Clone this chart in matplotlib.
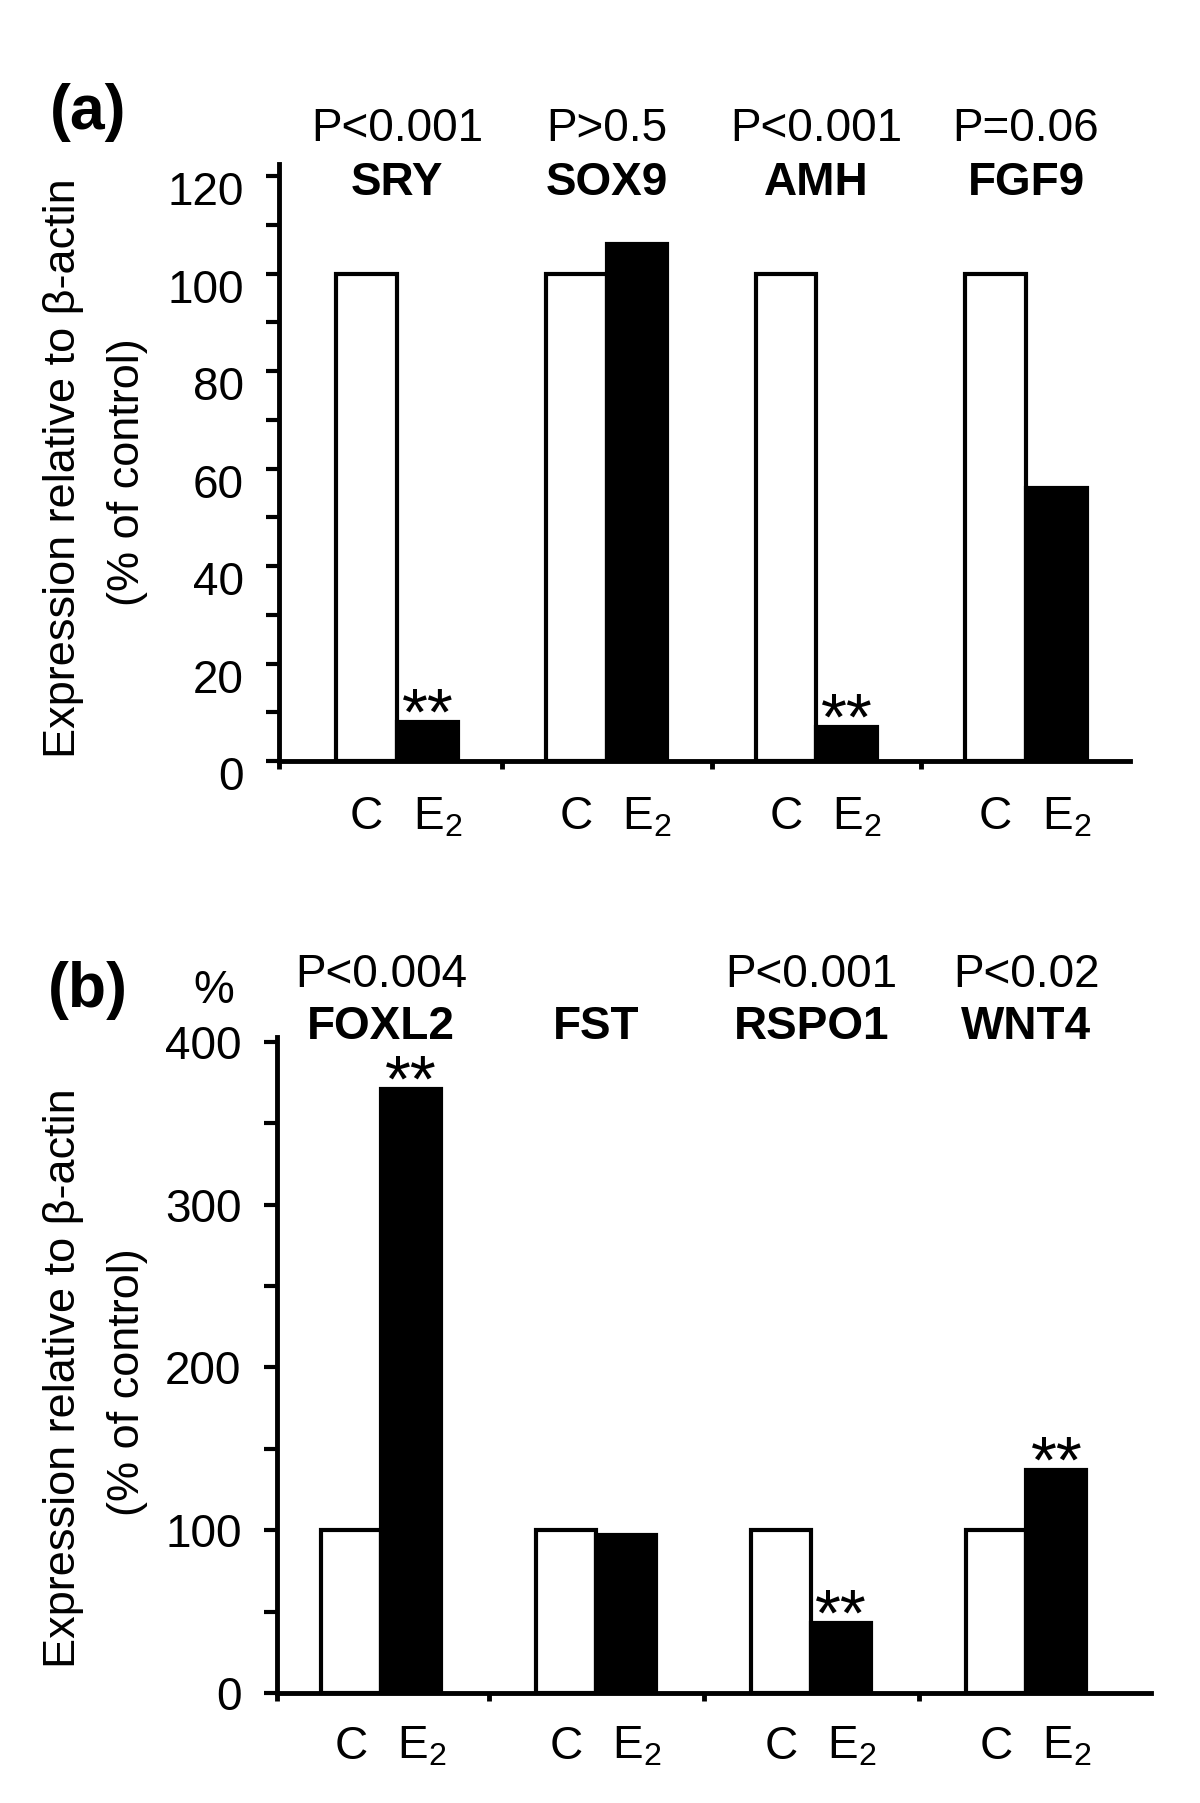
import matplotlib
matplotlib.use("Agg")
import matplotlib.pyplot as plt
from matplotlib import transforms
import numpy as np

plt.rcParams['font.family'] = ['Liberation Sans', 'DejaVu Sans']
plt.rcParams['mathtext.fontset'] = 'custom'
plt.rcParams['mathtext.rm'] = 'Liberation Sans'
plt.rcParams['mathtext.it'] = 'Liberation Sans:italic'
plt.rcParams['mathtext.bf'] = 'Liberation Sans:bold'

# panel (a): male pathway genes
genes_a = ["SRY", "SOX9", "AMH", "FGF9"]
pvals_a = ["P<0.001", "P>0.5", "P<0.001", "P=0.06"]
control_a = [100, 100, 100, 100]
e2_a = [8, 106, 7, 56]
stars_a = [True, False, True, False]
yticks_a = [0, 20, 40, 60, 80, 100, 120]

# panel (b): female pathway genes
genes_b = ["FOXL2", "FST", "RSPO1", "WNT4"]
pvals_b = ["P<0.004", "", "P<0.001", "P<0.02"]
control_b = [100, 100, 100, 100]
e2_b = [371, 97, 43, 137]
stars_b = [True, False, True, True]
yticks_b = [0, 100, 200, 300, 400]

group_labels = ["C", "E$_2$"]

W, H = 1200, 1803
fig = plt.figure(figsize=(W / 100, H / 100), dpi=100)


def fy(px):
    return 1 - px / H


def panel(rect, genes, pvals, ctrl, e2, stars, yticks, yminor, ytop, xlim, w,
          letter, letter_y, p_y, g_y, xl_y, ylab_y, lab_dy):
    ax = fig.add_axes(rect)
    x = np.arange(len(genes))
    ax.bar(x - w / 2, ctrl, w, color="white", edgecolor="black", linewidth=3, zorder=2)
    ax.bar(x + w / 2, e2, w, color="black", edgecolor="black", linewidth=3, zorder=2)

    ax.set_xlim(*xlim)
    ax.set_ylim(0, ytop)
    for s in ["top", "right"]:
        ax.spines[s].set_visible(False)
    for s in ["left", "bottom"]:
        ax.spines[s].set_linewidth(3.5)

    ax.set_xticks([xlim[0], 0.5, 1.5, 2.5])
    ax.set_xticklabels([])
    ax.tick_params(axis="x", which="major", direction="out", length=6, width=3.5)
    ax.set_yticks(yticks)
    ax.set_yticks(yminor, minor=True)
    ax.tick_params(axis="y", which="both", direction="out", length=9.5, width=3, pad=16,
                   labelsize=33)
    if lab_dy:
        off = transforms.ScaledTranslation(0, -lab_dy / 100, fig.dpi_scale_trans)
        for lbl in ax.get_yticklabels():
            lbl.set_transform(lbl.get_transform() + off)

    tr = transforms.blended_transform_factory(ax.transData, fig.transFigure)
    e_shift = tr + transforms.ScaledTranslation(0.10, 0, fig.dpi_scale_trans)
    for i in range(len(genes)):
        ax.text(i, fy(p_y), pvals[i], transform=tr, ha="center", va="baseline", fontsize=33)
        ax.text(i, fy(g_y), genes[i], transform=tr, ha="center", va="baseline",
                fontsize=33, fontweight="bold")
        ax.text(i - w / 2, fy(xl_y), group_labels[0], transform=tr, ha="center",
                va="baseline", fontsize=33)
        ax.text(i + w / 2, fy(xl_y), group_labels[1], transform=e_shift, ha="center",
                va="baseline", fontsize=33)
        if stars[i]:
            ax.annotate("**", (i + w / 2, e2[i]), xytext=(0, -9), textcoords="offset points",
                        ha="center", va="baseline", fontsize=48)

    fig.text(88 / W, fy(letter_y), letter, ha="center", va="center", fontsize=45,
             fontweight="bold")
    fig.text(64 / W, fy(ylab_y), "Expression relative to \u03b2-actin", rotation=90,
             ha="center", va="center", fontsize=32.5)
    fig.text(127 / W, fy(ylab_y + 4), "(% of control)", rotation=90,
             ha="center", va="center", fontsize=32.5)
    return ax


panel([279 / W, fy(761), (1130 - 279) / W, (761 - 164) / H],
      genes_a, pvals_a, control_a, e2_a, stars_a, yticks_a,
      list(range(10, 120, 20)), 122.5, (-0.563, 3.496), 0.29,
      "(a)", 113, 141, 195, 829, 468, 12)

ax_b = panel([277 / W, fy(1693), (1151 - 277) / W, (1693 - 1037) / H],
             genes_b, pvals_b, control_b, e2_b, stars_b, yticks_b,
             list(range(50, 400, 100)), 403, (-0.484, 3.58), 0.28,
             "(b)", 991, 987, 1039, 1759, 1378, 0)
fig.text(214 / W, fy(991), "%", ha="center", va="center", fontsize=33)

fig.savefig("out.png", dpi=100)
